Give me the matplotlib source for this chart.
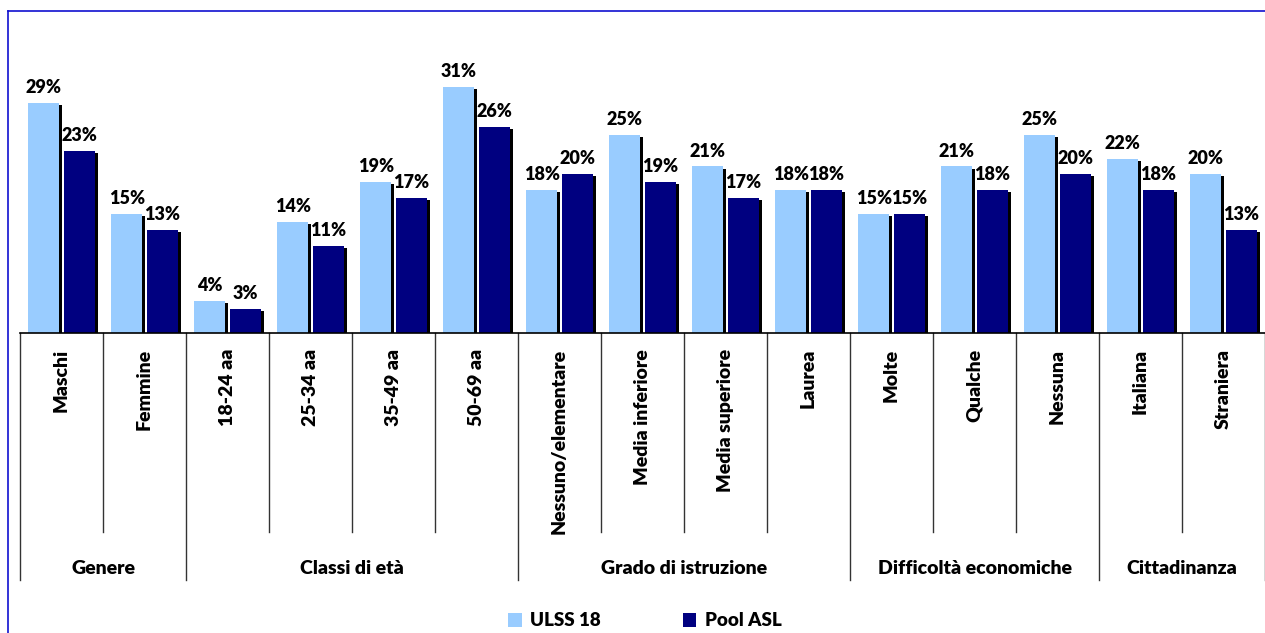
import numpy as np
import matplotlib
matplotlib.use("Agg")
import matplotlib.pyplot as plt
import matplotlib.patheffects as pe
from matplotlib.lines import Line2D
from matplotlib.patches import Patch

plt.rcParams['font.family'] = ['Lato', 'DejaVu Sans']

categorie = ["Maschi", "Femmine", "18-24 aa", "25-34 aa", "35-49 aa", "50-69 aa",
             "Nessuno/elementare", "Media inferiore", "Media superiore", "Laurea",
             "Molte", "Qualche", "Nessuna", "Italiana", "Straniera"]
ulss18 = [29, 15, 4, 14, 19, 31, 18, 25, 21, 18, 15, 21, 25, 22, 20]
poolAsl = [23, 13, 3, 11, 17, 26, 20, 19, 17, 18, 15, 18, 20, 18, 13]
gruppi = ["Genere", "Classi di età", "Grado di istruzione", "Difficoltà economiche", "Cittadinanza"]
dimGruppi = [2, 4, 4, 3, 2]

W, H = 1265, 633
PESO = 'heavy'
fig = plt.figure(figsize=(W / 100, H / 100), dpi=100)
ax = fig.add_axes([20 / W, 300 / H, 1245 / W, 293 / H])

x = np.arange(len(categorie))
larg = 0.38
ombra = [pe.SimplePatchShadow(offset=(2, -1.5), shadow_rgbFace='black', alpha=1.0), pe.Normal()]
b1 = ax.bar(x - 0.215, ulss18, larg, color='#99CCFF', path_effects=ombra, zorder=2)
b2 = ax.bar(x + 0.215, poolAsl, larg, color='#000080', path_effects=ombra, zorder=2)

for barre, valori in ((b1, ulss18), (b2, poolAsl)):
    for r, v in zip(barre, valori):
        ax.annotate(f"{v}%", (r.get_x() + r.get_width() / 2, v), xytext=(0, 5),
                    textcoords='offset points', ha='center', va='bottom',
                    fontsize=13, fontweight=PESO)

ax.set_xlim(-0.5, len(categorie) - 0.5)
ax.set_ylim(0, 36.95)
ax.set_xticks([])
ax.set_yticks([])
for s in ['top', 'left', 'right']:
    ax.spines[s].set_visible(False)
ax.spines['bottom'].set_linewidth(1.2)

# righe verticali sotto l'asse: categorie (corte) e gruppi (lunghe)
bordi = np.cumsum([0] + dimGruppi) - 0.5
for i in range(len(categorie) + 1):
    xb = i - 0.5
    basso = -247 / 293 if xb in bordi else -199 / 293
    ax.plot([xb, xb], [0, basso], color='#333333', lw=1,
            transform=ax.get_xaxis_transform(), clip_on=False)

for i, nome in enumerate(categorie):
    ax.text(i, -16 / 293, nome, rotation=90, ha='center', va='top', fontsize=14,
            fontweight=PESO, transform=ax.get_xaxis_transform())

for g, nome in enumerate(gruppi):
    centro = (bordi[g] + bordi[g + 1]) / 2
    ax.text(centro, -235 / 293, nome, ha='center', va='center', fontsize=14,
            fontweight=PESO, transform=ax.get_xaxis_transform())

maniglie = [Patch(facecolor='#99CCFF'), Patch(facecolor='#000080')]
fig.legend(maniglie, ["ULSS 18", "Pool ASL"], loc='center', bbox_to_anchor=(645 / W, 12 / H),
           ncol=2, frameon=False, handlelength=0.7, handleheight=0.7,
           handletextpad=0.45, columnspacing=4.4, prop={'weight': PESO, 'size': 13.5})

# cornice blu
fig.add_artist(Line2D([8 / W, 1], [1 - 11 / H, 1 - 11 / H], color='#1010D0', lw=1.2))
fig.add_artist(Line2D([8 / W, 8 / W], [0, 1 - 11 / H], color='#1010D0', lw=1.2))

fig.savefig("out.png", dpi=100)
